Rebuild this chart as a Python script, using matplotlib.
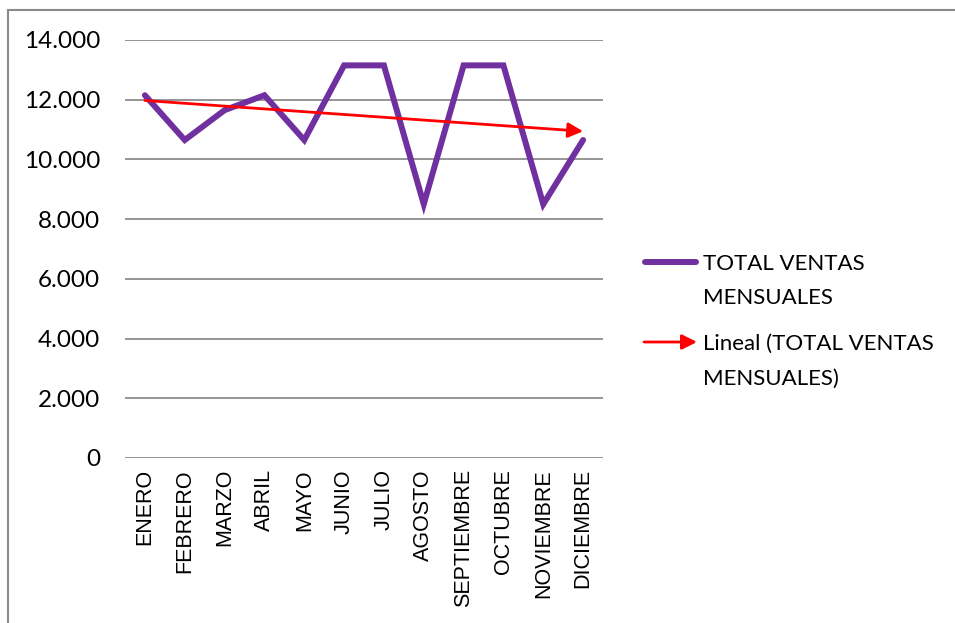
import matplotlib
matplotlib.use("Agg")
import matplotlib.pyplot as plt
import numpy as np
from matplotlib.lines import Line2D
from matplotlib.patches import Rectangle
from matplotlib.ticker import FuncFormatter

meses = ["ENERO", "FEBRERO", "MARZO", "ABRIL", "MAYO", "JUNIO", "JULIO",
         "AGOSTO", "SEPTIEMBRE", "OCTUBRE", "NOVIEMBRE", "DICIEMBRE"]
ventas = [12150, 10650, 11650, 12150, 10650, 13150, 13150,
          8500, 13150, 13150, 8500, 10650]
y_ticks = [0, 2000, 4000, 6000, 8000, 10000, 12000, 14000]

morado = "#7030A0"
rojo = "#FF0000"
gris = "#8C8C8C"

fig = plt.figure(figsize=(9.55, 6.23), dpi=100)
W, H = 955, 623
ax = fig.add_axes([125 / W, 1 - 458 / H, (603 - 125) / W, (458 - 40) / H])

x = np.arange(len(meses))
ax.plot(x, ventas, color=morado, lw=4.3, solid_capstyle="round",
        solid_joinstyle="miter", zorder=3)

# linea de tendencia (ajuste lineal)
m, b = np.polyfit(x, ventas, 1)
ax.annotate("", xy=(x[-1], m * x[-1] + b), xytext=(x[0], m * x[0] + b),
            arrowprops=dict(arrowstyle="-|>,head_length=0.9,head_width=0.45",
                            color=rojo, lw=2, shrinkA=0, shrinkB=0),
            zorder=4)

ax.set_xlim(-0.5, len(meses) - 0.5)
ax.set_ylim(0, 14000)
ax.set_yticks(y_ticks)
ax.yaxis.set_major_formatter(FuncFormatter(lambda v, p: f"{int(v):,}".replace(",", ".")))
ax.grid(axis="y", color=gris, lw=1.3)
ax.set_axisbelow(True)
for s in ax.spines.values():
    s.set_visible(False)
ax.tick_params(axis="y", length=0, pad=18, labelsize=17.5)
ax.tick_params(axis="x", length=0, pad=8)
for lbl in ax.get_yticklabels():
    lbl.set_fontfamily("Lato")
ax.set_xticks(x)
ax.set_xticklabels(meses, rotation=90, fontsize=15.5, family="Liberation Sans")

# leyenda
def px(xp, yp):
    return xp / W, 1 - yp / H

fig.add_artist(Line2D([px(645, 0)[0], px(696, 0)[0]], [px(0, 262)[1]] * 2,
                      color=morado, lw=4.3, solid_capstyle="round"))
fig.add_artist(plt.Annotation(
    "", xy=px(697, 342), xytext=px(644, 342), xycoords="figure fraction",
    arrowprops=dict(arrowstyle="-|>,head_length=0.9,head_width=0.45",
                    color=rojo, lw=2, shrinkA=0, shrinkB=0)))
leyenda = [("TOTAL VENTAS", 264), ("MENSUALES", 298),
           ("Lineal (TOTAL VENTAS", 344), ("MENSUALES)", 379)]
for texto, yp in leyenda:
    fig.text(*px(703, yp), texto, va="center", ha="left",
             fontsize=16, family="Lato")

# marco del grafico
fig.add_artist(Rectangle(px(8, 640), (980 - 8) / W, (640 - 10) / H,
                         transform=fig.transFigure, fill=False,
                         edgecolor="#8A8A8A", lw=1.5, clip_on=False))

fig.savefig("out.png", dpi=100)
